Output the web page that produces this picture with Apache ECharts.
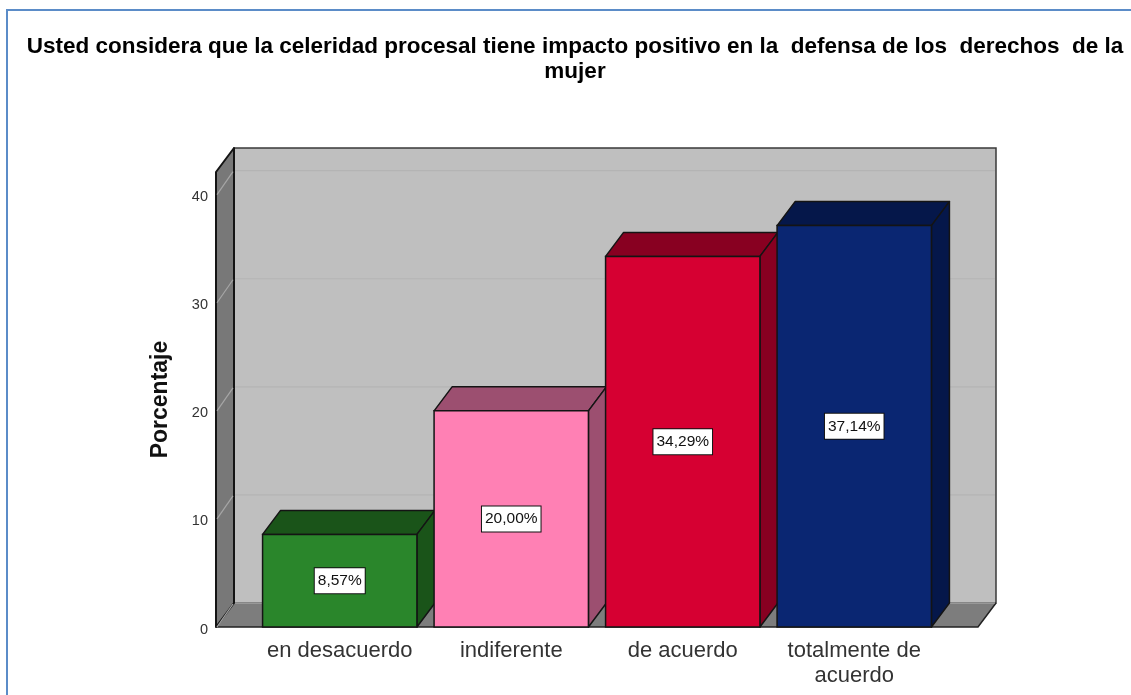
<!DOCTYPE html>
<html>
<head>
<meta charset="utf-8">
<style>
  html, body { margin: 0; padding: 0; background: #fff; }
  #chart { width: 1131px; height: 695px; }
</style>
<script src="https://cdn.jsdelivr.net/npm/echarts@6/dist/echarts.min.js"></script>
</head>
<body>
<div id="chart"></div>
<script>
const titleText = 'Usted considera que la celeridad procesal tiene impacto positivo en la  defensa de los  derechos  de la\nmujer'
const axisName = 'Porcentaje'
const categories = ['en desacuerdo', 'indiferente', 'de acuerdo', 'totalmente de\nacuerdo']
const percent = [8.57, 20.00, 34.29, 37.14]
const gridValues = [0, 10, 20, 30, 40]
const frontColors = ['#2a862b', '#ff80b4', '#d60032', '#0a2672']
const darkColors = ['#1a5419', '#9c4f70', '#880021', '#05174a']

// profundidad del efecto 3D, en pixeles
const depthX = 18
const depthY = 24
const wallPad = 38
const yMax = 42.1
const edge = '#141414'

function polygon(points, fill, stroke, width) {
  return {
    type: 'polygon',
    shape: { points: points },
    style: { fill: fill, stroke: stroke || edge, lineWidth: width || 1.5, lineJoin: 'round' }
  }
}

function renderWalls(params, api) {
  const g = params.coordSys
  const left = g.x - wallPad
  const right = g.x + g.width + wallPad
  const bottom = api.coord([0, 0])[1]
  const top = api.coord([0, yMax])[1]
  const floorY = bottom - depthY
  return {
    type: 'group',
    children: [
      { type: 'rect', shape: { x: left + depthX, y: top - depthY, width: right - left, height: bottom - top },
        style: { fill: '#bfbfbf', stroke: '#3a3a3a', lineWidth: 1.5 } },
      { type: 'polygon', shape: { points: [[left, bottom], [right, bottom], [right + depthX, floorY], [left + depthX, floorY]] },
        style: { fill: '#7d7d7d' } },
      { type: 'polyline', shape: { points: [[left, bottom], [right, bottom], [right + depthX, floorY]] },
        style: { fill: 'none', stroke: '#222', lineWidth: 1.5 } },
      polygon([[left, top], [left + depthX, top - depthY], [left + depthX, floorY], [left, bottom]], '#787878', '#141414', 2)
    ]
  }
}

function renderGridLine(params, api) {
  const g = params.coordSys
  const left = g.x - wallPad
  const right = g.x + g.width + wallPad
  const y = api.coord([0, api.value(0)])[1]
  return {
    type: 'group',
    children: [
      { type: 'line', shape: { x1: left + 1, y1: y, x2: left + depthX - 1, y2: y - depthY + 1 },
        style: { stroke: '#a6a6a6', lineWidth: 1.2 } },
      { type: 'line', shape: { x1: left + depthX + 1, y1: y - depthY, x2: right + depthX - 1, y2: y - depthY },
        style: { stroke: '#b4b4b4', lineWidth: 1.2 } }
    ]
  }
}

function renderBar(params, api) {
  const i = api.value(0)
  const val = api.value(1)
  const c = api.coord([i, val])
  const base = api.coord([i, 0])
  const w = api.size([1, 0])[0] * 0.9
  const x0 = c[0] - w / 2
  const x1 = c[0] + w / 2
  const top = c[1]
  const bottom = base[1]
  return {
    type: 'group',
    children: [
      polygon([[x0, top], [x0 + depthX, top - depthY], [x1 + depthX, top - depthY], [x1, top]], darkColors[i]),
      polygon([[x1, top], [x1 + depthX, top - depthY], [x1 + depthX, bottom - depthY], [x1, bottom]], darkColors[i]),
      { type: 'rect', shape: { x: x0, y: top, width: w, height: bottom - top },
        style: { fill: frontColors[i], stroke: edge, lineWidth: 1.5 } },
      { type: 'text', x: c[0], y: (top + bottom) / 2,
        style: {
          text: val.toFixed(2).replace('.', ',') + '%',
          align: 'center', verticalAlign: 'middle',
          font: '15.5px "Liberation Sans"', fill: '#111',
          backgroundColor: '#fff', borderColor: '#111', borderWidth: 1,
          padding: [5, 3, 4, 3]
        } }
    ]
  }
}

const chart = echarts.init(document.getElementById('chart'))
chart.setOption({
  animation: false,
  backgroundColor: '#fff',
  textStyle: { fontFamily: '"Liberation Sans", Arial, sans-serif' },
  title: {
    text: titleText,
    left: 575,
    top: 34,
    padding: 0,
    textAlign: 'center',
    textStyle: { fontSize: 22.5, fontWeight: 'bold', color: '#000', lineHeight: 25, fontFamily: '"Liberation Sans"' }
  },
  graphic: [
    { type: 'polyline', shape: { points: [[7, 695], [7, 10], [1131, 10]] },
      style: { fill: 'none', stroke: '#5b8cc8', lineWidth: 2 } }
  ],
  grid: { left: 254, top: 172, width: 686, height: 455 },
  xAxis: {
    type: 'category',
    data: categories,
    axisLine: { show: false },
    axisTick: { show: false },
    axisLabel: { interval: 0, fontSize: 22, color: '#333', lineHeight: 25, margin: 11, fontFamily: '"Liberation Sans"' }
  },
  yAxis: {
    type: 'value',
    min: 0,
    max: yMax,
    interval: 10,
    offset: wallPad,
    name: axisName,
    nameLocation: 'middle',
    nameGap: 44,
    nameTextStyle: { fontSize: 23, fontWeight: 'bold', color: '#111', fontFamily: '"Liberation Sans"' },
    axisLine: { show: false },
    axisTick: { show: false },
    splitLine: { show: false },
    axisLabel: {
      margin: 8,
      showMaxLabel: false,
      formatter: '{n|{value}}',
      rich: { n: { fontSize: 14.5, color: '#333', padding: [5, 0, 0, 0], fontFamily: '"Liberation Sans"' } }
    }
  },
  series: [
    { type: 'custom', name: 'paredes', silent: true, data: [[0]], renderItem: renderWalls, encode: { y: 0 }, z: 1 },
    { type: 'custom', name: 'lineas', silent: true, data: gridValues.map(v => [v]), renderItem: renderGridLine, encode: { y: 0 }, z: 2 },
    { type: 'custom', name: 'Porcentaje', data: percent.map((v, i) => [i, v]), renderItem: renderBar, encode: { x: 0, y: 1 }, z: 3 }
  ]
})

window.addEventListener('resize', () => {
  chart.resize()
})
</script>
</body>
</html>
